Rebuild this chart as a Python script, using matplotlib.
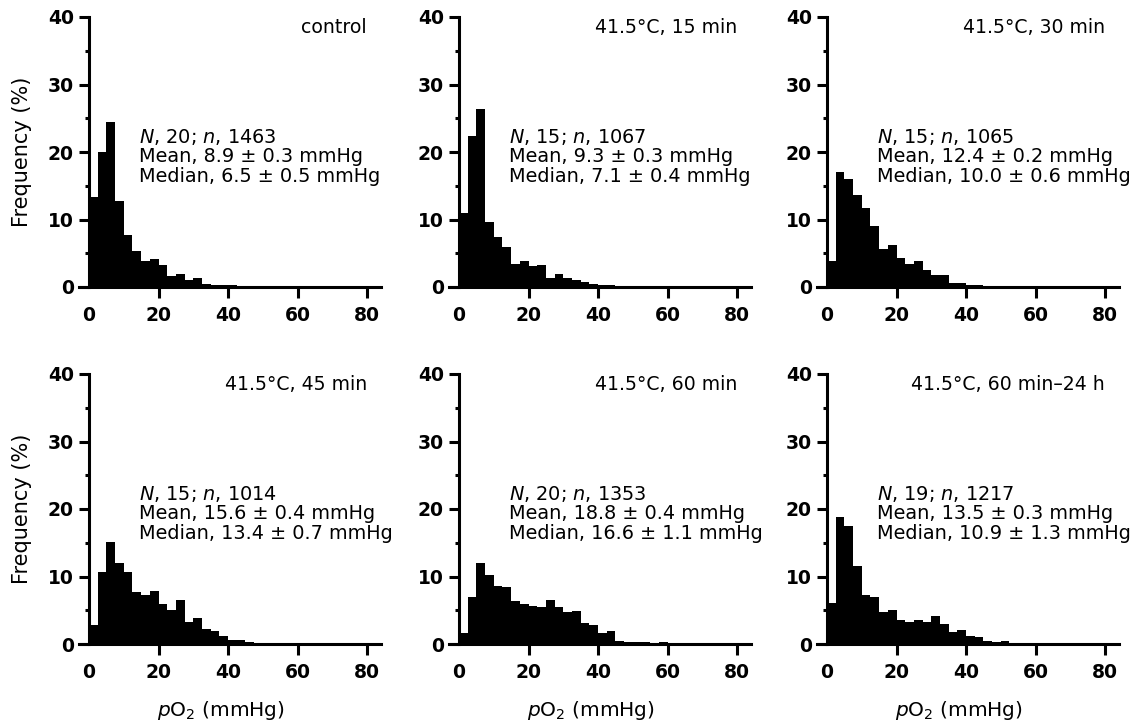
import numpy as np
import matplotlib
matplotlib.use("Agg")
import matplotlib.pyplot as plt

plt.rcParams['font.family'] = ['DejaVu Sans']
plt.rcParams['mathtext.fontset'] = 'dejavusans'

# bin width of the pO2 histograms (mmHg)
bin_w = 2.5

# frequency (%) per 2.5 mmHg bin
control = [13.3, 20.0, 24.5, 12.8, 7.7, 5.3, 3.8, 4.1, 3.2, 1.7, 1.9, 1.1, 1.3,
           0.5, 0.35, 0.35, 0.25, 0.15, 0.1, 0.1, 0.1, 0.1, 0.1, 0.1]
min15 = [11.0, 22.4, 26.3, 9.6, 7.4, 6.0, 3.35, 3.85, 3.05, 3.25, 1.4, 1.9, 1.4,
         1.1, 0.8, 0.5, 0.35, 0.25, 0.15, 0.1, 0.1, 0.1, 0.1, 0.1]
min30 = [3.9, 17.0, 16.0, 13.6, 11.7, 9.1, 5.7, 6.2, 4.3, 3.45, 3.8, 2.5, 1.8,
         1.8, 0.6, 0.6, 0.35, 0.35, 0.15, 0.1, 0.1, 0.1, 0.1, 0.1]
min45 = [2.8, 10.7, 15.1, 11.95, 10.6, 7.75, 7.2, 7.9, 6.0, 5.0, 6.5, 3.2, 3.8,
         2.2, 1.9, 1.2, 0.6, 0.6, 0.3, 0.15, 0.1, 0.1, 0.1, 0.15]
min60 = [1.7, 7.0, 11.95, 10.2, 8.6, 8.4, 6.4, 6.0, 5.7, 5.5, 6.5, 5.5, 4.7,
         4.9, 3.05, 2.8, 1.6, 2.0, 0.5, 0.35, 0.35, 0.3, 0.2, 0.3, 0.1, 0.1]
min60_24h = [6.05, 18.8, 17.5, 11.6, 7.25, 6.9, 4.8, 5.0, 3.5, 3.3, 3.5, 3.2, 4.1,
             2.95, 1.8, 2.1, 1.2, 1.0, 0.5, 0.25, 0.5, 0.15, 0.1, 0.1]

titles = ['control', '41.5\u00b0C, 15 min', '41.5\u00b0C, 30 min',
          '41.5\u00b0C, 45 min', '41.5\u00b0C, 60 min', '41.5\u00b0C, 60 min\u201324 h']
N_vals = [20, 15, 15, 15, 20, 19]
n_vals = [1463, 1067, 1065, 1014, 1353, 1217]
means = ['8.9 \u00b1 0.3', '9.3 \u00b1 0.3', '12.4 \u00b1 0.2',
         '15.6 \u00b1 0.4', '18.8 \u00b1 0.4', '13.5 \u00b1 0.3']
medians = ['6.5 \u00b1 0.5', '7.1 \u00b1 0.4', '10.0 \u00b1 0.6',
           '13.4 \u00b1 0.7', '16.6 \u00b1 1.1', '10.9 \u00b1 1.3']
data = [control, min15, min30, min45, min60, min60_24h]

W, H = 1136, 724
fig = plt.figure(figsize=(W / 100, H / 100), dpi=100)

# axes boxes in pixels: left, top, width, height
lefts = [78.6, 448.6, 816.6]
tops = [17, 374]
ax_w, ax_h = 302.3, 270

fs = 13.9
lw = 2.2

for i in range(6):
    r, c = divmod(i, 3)
    ax = fig.add_axes([lefts[c] / W, 1 - (tops[r] + ax_h) / H, ax_w / W, ax_h / H])
    vals = data[i]
    edges = np.arange(len(vals)) * bin_w
    ax.bar(edges, vals, width=bin_w, align='edge', color='black', linewidth=0)

    ax.set_xlim(-3, 84)
    ax.set_ylim(0, 40)
    for s in ['top', 'right']:
        ax.spines[s].set_visible(False)
    ax.spines['left'].set_position(('data', 0))
    ax.spines['left'].set_linewidth(lw)
    ax.spines['bottom'].set_linewidth(lw)
    ax.spines['bottom'].set_zorder(3)
    ax.spines['left'].set_zorder(3)

    ax.set_xticks([0, 20, 40, 60, 80])
    ax.set_yticks([0, 10, 20, 30, 40])
    ax.set_yticks([5, 15, 25, 35], minor=True)
    ax.tick_params(axis='x', which='major', direction='out', length=8, width=lw,
                   labelsize=13.5, pad=6)
    ax.tick_params(axis='y', which='major', direction='out', length=7, width=lw,
                   labelsize=13.5, pad=4)
    ax.tick_params(axis='y', which='minor', direction='out', length=3, width=lw)
    ax.xaxis.get_major_ticks()[0].tick1line.set_visible(False)
    for lab in ax.get_xticklabels() + ax.get_yticklabels():
        lab.set_fontweight('bold')

    ax.text(80, 37.6, titles[i], ha='right', va='baseline', fontsize=13.6)
    lines = [r'$\mathit{N}$' + f', {N_vals[i]}; ' + r'$\mathit{n}$' + f', {n_vals[i]}',
             f'Mean, {means[i]} mmHg',
             f'Median, {medians[i]} mmHg']
    for k, line in enumerate(lines):
        ax.text(14.5, 21.3 - 2.85 * k, line, ha='left', va='baseline', fontsize=fs)

    if c == 0:
        ax.set_ylabel('Frequency (%)', fontsize=15, labelpad=11)
    if r == 1:
        ax.text(38, -10.7, r'$\mathit{p}$O$_2$ (mmHg)', ha='center', va='baseline',
                fontsize=14.5)

fig.savefig('out.png', dpi=100)
